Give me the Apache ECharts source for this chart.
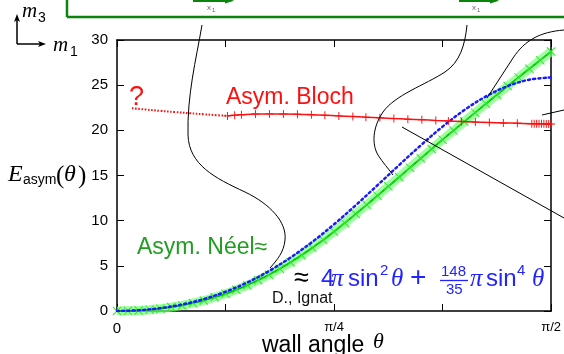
<!DOCTYPE html>
<html>
<head>
<meta charset="utf-8">
<script src="https://cdn.jsdelivr.net/npm/echarts@6/dist/echarts.min.js"></script>
<style>
html,body{margin:0;padding:0;background:#fff;}
#chart{width:564px;height:354px;}
</style>
</head>
<body>
<div id="chart"></div>
<script>
// wall angle θ in degrees (0 … 90 = π/2), energies E_asym(θ)
const thetaMax = 90;
const thetaTickStep = 22.5;           // π/8
const thetaTickLabels = {0: '0', 45: 'π/4', 90: 'π/2'};
const energyTicks = [0, 5, 10, 15, 20, 25, 30];

// asymmetric Néel wall, sampled every 2.25°
const neelStep = 2.25;
const neelE = [0, 0.015, 0.06, 0.15, 0.26, 0.43, 0.62, 0.88, 1.16, 1.52, 1.90,
  2.36, 2.85, 3.41, 4.01, 4.68, 5.39, 6.17, 6.99, 7.87, 8.79, 9.75, 10.74,
  11.75, 12.77, 13.80, 14.83, 15.87, 16.90, 17.94, 18.97, 19.97, 20.97, 21.96,
  22.95, 23.93, 24.90, 25.86, 26.82, 27.77, 28.72];

// approximation 4π sin²θ + 148/35 π sin⁴θ, sampled every 4.5°
const approxStep = 4.5;
const approxE = [0, 0.08, 0.32, 0.72, 1.32, 2.13, 3.15, 4.42, 5.93, 7.66, 9.60,
  11.71, 13.92, 16.16, 18.35, 20.41, 22.24, 23.76, 24.90, 25.61, 25.85];

// asymmetric Bloch wall (computed points)
const blochTheta = [22.9, 24.4, 25.8, 28.7, 31.6, 34.5, 37.4, 40.3, 43.1, 46.0,
  48.9, 51.6, 54.5, 57.4, 60.3, 63.2, 66.1, 68.7, 71.4, 74.3, 77.2, 80.1, 83.0,
  86.0, 86.5, 87.0, 87.5, 88.0, 88.5, 89.0, 89.5, 90.0];
const blochE = [21.60, 21.68, 21.73, 21.80, 21.82, 21.81, 21.78, 21.73, 21.67,
  21.60, 21.53, 21.46, 21.39, 21.31, 21.24, 21.17, 21.10, 21.04, 20.98, 20.92,
  20.87, 20.82, 20.78, 20.74, 20.74, 20.73, 20.73, 20.72, 20.72, 20.71, 20.71, 20.70];

// Bloch branch continued towards small angles (uncertain)
const blochGuessTheta = [3.1, 6, 9, 12, 15, 18, 20.5, 22.9];
const blochGuessE = [22.45, 22.30, 22.15, 22.02, 21.90, 21.78, 21.68, 21.60];

const SANS = '"Liberation Sans", Arial, sans-serif';
const SERIF = '"Liberation Serif", "Times New Roman", serif';
const RED = '#ff1010';
const GREEN_TXT = '#1f9e1f';
const BLUE = '#2323ff';
const FRAME_GREEN = '#0a840a';

const neelPts = neelE.map((e, i) => [i * neelStep, e]);
const approxPts = approxE.map((e, i) => [i * approxStep, e]);
const blochPts = blochTheta.map((t, i) => [t, blochE[i]]);
const blochGuessPts = blochGuessTheta.map((t, i) => [t, blochGuessE[i]]);

const plusSymbol = 'path://M4.4,0H5.6V10H4.4Z M0,4.4H10V5.6H0Z';
const crossSymbol = 'path://M0,0.8L0.8,0L10,9.2L9.2,10Z M9.2,0L10,0.8L0.8,10L0,9.2Z';

// text placed by its baseline
function txt(text, x, base, size, fill, opts) {
  opts = opts || {};
  const fam = opts.family || SANS;
  const style = opts.italic ? 'italic ' : '';
  return {
    type: 'text', z: 30, silent: true,
    style: {
      text: text, x: x, y: base - 0.31 * size,
      font: style + size + 'px ' + fam,
      fill: fill, verticalAlign: 'middle', align: opts.align || 'left'
    }
  };
}

// a poly-curve given as [start, [c1, c2, end] | [end], ...] in pixels
function curve(start, segs, color, width) {
  const out = [];
  let p = start;
  segs.forEach(s => {
    if (s.length === 3) {
      out.push({
        type: 'bezierCurve', z: 25, silent: true,
        shape: {x1: p[0], y1: p[1], cpx1: s[0][0], cpy1: s[0][1],
                cpx2: s[1][0], cpy2: s[1][1], x2: s[2][0], y2: s[2][1]},
        style: {stroke: color, lineWidth: width, fill: null}
      });
      p = s[2];
    } else {
      out.push({
        type: 'line', z: 25, silent: true,
        shape: {x1: p[0], y1: p[1], x2: s[0][0], y2: s[0][1]},
        style: {stroke: color, lineWidth: width}
      });
      p = s[0];
    }
  });
  return out;
}
function tri(points, color) {
  return {type: 'polygon', z: 26, silent: true, shape: {points: points}, style: {fill: color}};
}

// connector lines leading to the wall pictures around the plot
const connectors = [
  [[202, 25], [[[196, 60], [187, 95], [188, 135]], [[189, 165], [215, 178], [245, 192]],
               [[270, 204], [287, 222], [285, 240]], [[284, 252], [277, 260], [270, 268]]]],
  [[467, 25], [[[465, 45], [460, 62], [445, 72]], [[425, 85], [395, 95], [383, 112]],
               [[372, 128], [372, 145], [378, 155]], [[383, 163], [388, 168], [393, 175]]]],
  [[564, 30], [[[540, 32], [525, 40], [513, 58]], [[487, 98]]]],
  [[542, 115], [[[564, 110]]]],
  [[402, 127], [[[564, 218]]]]
];

let graphics = [];
connectors.forEach(c => { graphics = graphics.concat(curve(c[0], c[1], '#000', 1)); });

// frame of the pictures above the plot
graphics = graphics.concat(curve([67, 0], [[[67, 17]], [[564, 17]]], FRAME_GREEN, 2.5));
graphics = graphics.concat(curve([193, 0.8], [[[228, 0.8]]], FRAME_GREEN, 2.5));
graphics.push(tri([[225, -3], [234, 0.8], [225, 3.5]], FRAME_GREEN));
graphics = graphics.concat(curve([459, 0.8], [[[493, 0.8]]], FRAME_GREEN, 2.5));
graphics.push(tri([[490, -3], [499, 0.8], [490, 3.5]], FRAME_GREEN));
graphics.push(txt('x', 207, 10, 8, '#666'));
graphics.push(txt('1', 212, 12, 6, '#666'));
graphics.push(txt('x', 472, 10, 8, '#666'));
graphics.push(txt('1', 477, 12, 6, '#666'));

// m1 / m3 direction arrows
graphics = graphics.concat(curve([17, 44], [[[17, 19]]], '#000', 1.5));
graphics = graphics.concat(curve([17, 44], [[[42, 44]]], '#000', 1.5));
graphics.push(tri([[14, 22], [17, 14], [20, 22], [17, 20]], '#000'));
graphics.push(tri([[38, 41], [46, 44], [38, 47], [40, 44]], '#000'));
graphics.push(txt('m', 22, 18, 21, '#000', {family: SERIF, italic: true}));
graphics.push(txt('3', 38, 22, 14, '#000'));
graphics.push(txt('m', 53, 52, 21, '#000', {family: SERIF, italic: true}));
graphics.push(txt('1', 70, 56, 14, '#000'));

// axis titles
graphics.push(txt('E', 8, 182, 24, '#000', {family: SERIF, italic: true}));
graphics.push(txt('asym', 23, 184, 14, '#000'));
graphics.push(txt('(', 56, 184, 25, '#000', {family: SERIF}));
graphics.push(txt('θ', 64, 182, 24, '#000', {family: SERIF, italic: true}));
graphics.push(txt(')', 78, 184, 25, '#000', {family: SERIF}));
graphics.push(txt('wall angle', 262, 353, 23, '#000'));
graphics.push(txt('θ', 373, 349, 22, '#000', {family: SERIF, italic: true}));

// curve annotations
graphics.push(txt('?', 129, 106, 27, RED));
graphics.push(txt('Asym. Bloch', 226, 105, 23, RED));
graphics.push(txt('Asym. Néel≈', 137, 255, 23, GREEN_TXT));
graphics.push(txt('D., Ignat', 272, 304, 16, '#111'));

// 4π sin²θ + 148/35 π sin⁴θ
graphics.push(txt('≈', 294, 287, 27, '#000'));
graphics.push(txt('4', 321, 287, 24, BLUE));
graphics.push(txt('π', 331, 287, 25, BLUE, {family: SERIF, italic: true}));
graphics.push(txt('sin', 348, 287, 24, BLUE));
graphics.push(txt('2', 380, 276, 15, BLUE));
graphics.push(txt('θ', 391, 287, 25, BLUE, {family: SERIF, italic: true}));
graphics.push(txt('+', 410, 287, 28, BLUE));
graphics.push(txt('148', 441, 277, 15, BLUE));
graphics = graphics.concat(curve([440, 280.5], [[[468, 280.5]]], BLUE, 1.3));
graphics.push(txt('35', 446, 295, 15, BLUE));
graphics.push(txt('π', 470, 287, 25, BLUE, {family: SERIF, italic: true}));
graphics.push(txt('sin', 486, 287, 24, BLUE));
graphics.push(txt('4', 517, 276, 15, BLUE));
graphics.push(txt('θ', 532, 287, 25, BLUE, {family: SERIF, italic: true}));

function frameLine() { return {show: true, onZero: false, lineStyle: {color: '#000', width: 1.5}}; }
function tickIn() { return {show: true, inside: true, length: 7, lineStyle: {color: '#000', width: 1}}; }

const chart = echarts.init(document.getElementById('chart'), null, {renderer: 'canvas'});
chart.setOption({
  animation: false,
  backgroundColor: '#fff',
  grid: {left: 117, right: 11, top: 40, bottom: 43, containLabel: false},
  xAxis: [{
    type: 'value', min: 0, max: thetaMax, interval: thetaTickStep, position: 'bottom',
    axisLine: frameLine(), axisTick: tickIn(), splitLine: {show: false},
    axisLabel: {
      margin: 10, showMinLabel: true, showMaxLabel: true, color: '#000',
      formatter: v => {
        const s = thetaTickLabels[v];
        if (!s) return '';
        return v === 0 ? '{z|' + s + '}' : '{p|' + s + '}';
      },
      rich: {
        z: {fontSize: 15, fontFamily: SANS, color: '#000'},
        p: {fontSize: 13, fontFamily: SANS, color: '#000'}
      }
    }
  }, {
    type: 'value', min: 0, max: thetaMax, interval: thetaTickStep, position: 'top',
    axisLine: frameLine(), axisTick: tickIn(), splitLine: {show: false},
    axisLabel: {show: false}
  }],
  yAxis: [{
    type: 'value', min: energyTicks[0], max: energyTicks[energyTicks.length - 1],
    interval: energyTicks[1] - energyTicks[0], position: 'left',
    axisLine: frameLine(), axisTick: tickIn(), splitLine: {show: false},
    axisLabel: {margin: 9, color: '#000', fontSize: 15, fontFamily: SANS}
  }, {
    type: 'value', min: energyTicks[0], max: energyTicks[energyTicks.length - 1],
    interval: energyTicks[1] - energyTicks[0], position: 'right',
    axisLine: frameLine(), axisTick: tickIn(), splitLine: {show: false},
    axisLabel: {show: false}
  }],
  series: [
    {
      name: 'Néel band', type: 'line', data: neelPts, smooth: true, symbol: 'none',
      silent: true, z: 2,
      lineStyle: {color: 'rgba(120,255,120,0.7)', width: 9}
    },
    {
      name: 'Asym. Néel', type: 'line', data: neelPts, smooth: true,
      symbol: crossSymbol, symbolSize: 9, showSymbol: true, z: 3,
      itemStyle: {color: '#2ee82e'},
      lineStyle: {color: '#00c400', width: 1.8}
    },
    {
      name: 'approximation', type: 'line', data: approxPts, smooth: 0.35, symbol: 'none', z: 4,
      lineStyle: {color: '#1a1aff', width: 2.5, type: [2, 3.2], cap: 'round'}
    },
    {
      name: 'Bloch guess', type: 'line', data: blochGuessPts, smooth: true, symbol: 'none', z: 5,
      lineStyle: {color: RED, width: 2, type: [1.6, 1.6]}
    },
    {
      name: 'Asym. Bloch', type: 'line', data: blochPts, smooth: true,
      symbol: plusSymbol, symbolSize: 8, showSymbol: true, z: 6,
      itemStyle: {color: RED},
      lineStyle: {color: RED, width: 1.5}
    }
  ],
  graphic: graphics
});
</script>
</body>
</html>
